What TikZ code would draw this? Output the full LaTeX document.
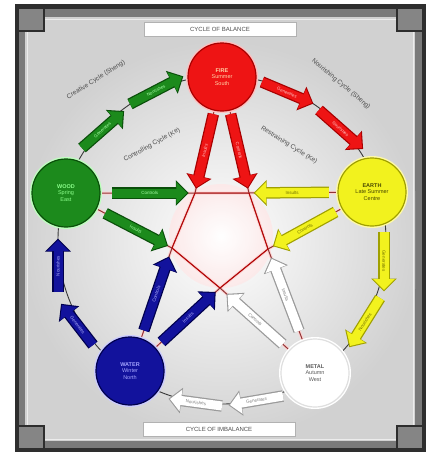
\documentclass[tikz,border=0pt]{standalone}
\usepackage{fontspec}
\setmainfont{Liberation Sans}
\usetikzlibrary{arrows.meta,calc}
\definecolor{frameout}{HTML}{2E2E2E}
\definecolor{framemid}{HTML}{7A7A7A}
\definecolor{framecorner}{HTML}{858585}
\definecolor{panel}{HTML}{D1D1D1}
\definecolor{firec}{HTML}{EE1414}
\definecolor{fired}{HTML}{A80000}
\definecolor{woodc}{HTML}{1C8A1C}
\definecolor{woodd}{HTML}{0A4F0A}
\definecolor{earthc}{HTML}{F2F21E}
\definecolor{earthd}{HTML}{A0A000}
\definecolor{waterc}{HTML}{12129C}
\definecolor{waterd}{HTML}{00004E}
\definecolor{metalc}{HTML}{FFFFFF}
\definecolor{metald}{HTML}{9A9A9A}
\definecolor{starline}{HTML}{8E3434}
\begin{document}
\begin{tikzpicture}[x=1pt,y=-1pt,
  elem/.style={circle, minimum size=68pt, inner sep=0pt, align=center,
    font=\fontsize{5.5}{6.5}\selectfont, line width=1.2pt},
  fat/.style 2 args={line width=9pt, draw=#1, -{Triangle[length=11pt,width=21pt]},
    preaction={draw=#2, line width=11.5pt, -{Triangle[length=13pt,width=25pt]}, shorten >=-1.5pt}},
  albl/.style={midway, sloped, font=\fontsize{4.5}{5}\selectfont, inner sep=0pt},
  cyclbl/.style={font=\fontsize{6.5}{7.5}\selectfont, text=gray!60!black, inner sep=0pt},
  titlebox/.style={draw=gray!60, fill=white, minimum width=152pt, minimum height=14pt,
    inner sep=0pt, font=\fontsize{6}{7}\selectfont, text=gray!60!black},
  halo/.style={line width=3pt, draw=red!18},
  kline/.style={line width=1pt, draw=starline}
]
\useasboundingbox (0,0) rectangle (432,453);
\fill[white] (0,0) rectangle (432,453);
% frame
\fill[frameout] (15,4) rectangle (426,452);
\fill[framemid] (19,9) rectangle (422,448);
\fill[panel] (25,17) rectangle (415,441);
\begin{scope}
  \clip (25,17) rectangle (415,441);
  \shade[inner color=white, outer color=panel] (221,240) circle (200);
\end{scope}
\draw[white!85!gray, line width=0.8pt] (27,19) rectangle (413,439);
% corners
\fill[framecorner] (19,9) rectangle (44,31);
\draw[gray!35!black, line width=1.5pt] (44,9) -- (44,31) -- (19,31);
\fill[framecorner] (397,9) rectangle (422,31);
\draw[gray!35!black, line width=1.5pt] (397,9) -- (397,31) -- (422,31);
\fill[framecorner] (19,426) rectangle (44,448);
\draw[gray!35!black, line width=1.5pt] (44,448) -- (44,426) -- (19,426);
\fill[framecorner] (397,426) rectangle (422,448);
\draw[gray!35!black, line width=1.5pt] (397,448) -- (397,426) -- (422,426);

% titles
\node[titlebox] (ttop) at (220,29) {CYCLE OF BALANCE};
\node[titlebox] (tbot) at (219,429) {CYCLE OF IMBALANCE};

% coordinates of element centres and inner pentagon
\coordinate (cf) at (222,77);
\coordinate (cw) at (66,193);
\coordinate (ce) at (372,192);
\coordinate (cwa) at (130,371);
\coordinate (cm) at (315,373);
\coordinate (pa) at (195,193);
\coordinate (pb) at (249,193);
\coordinate (pc) at (268,249);
\coordinate (pd) at (220,288);
\coordinate (pe) at (172,248);
\coordinate (cc) at (222,240);

% outer (sheng) ring
\draw[gray!45!black, line width=0.9pt] (cc) circle (164);

% pentagon glow
\shade[inner color=white, outer color=white!60!pink, opacity=0.7] (221,236) circle (52);

% ke lines (pentagram)
\draw[halo] (cw) -- (pa) -- (pb) -- (ce);
\draw[halo] (cf) -- (pa) -- (pe) -- (cwa);
\draw[halo] (cf) -- (pb) -- (pc) -- (cm);
\draw[halo] (cw) -- (pe) -- (pd) -- (cm);
\draw[halo] (ce) -- (pc) -- (pd) -- (cwa);
\draw[kline] (cw) -- (pa) -- (pb) -- (ce);
\draw[kline] (cf) -- (pa) -- (pe) -- (cwa);
\draw[kline] (cf) -- (pb) -- (pc) -- (cm);
\draw[kline] (cw) -- (pe) -- (pd) -- (cm);
\draw[kline] (ce) -- (pc) -- (pd) -- (cwa);
\draw[line width=0.8pt, draw=red!75!black] (pa) -- (pb) -- (pc) -- (pd) -- (pe) -- cycle;

% cycle labels
\node[cyclbl, rotate=32] (lab1) at (96,80) {Creative Cycle (Sheng)};
\node[cyclbl, rotate=-40] (lab2) at (341,84) {Nourishing Cycle (Sheng)};
\node[cyclbl, rotate=29] (lab3) at (152,145) {Controlling Cycle (Ke)};
\node[cyclbl, rotate=-32] (lab4) at (289,145) {Restraining Cycle (Ke)};

% outer arrow end points
\coordinate (g1s) at (82,148);  \coordinate (g1e) at (123,112);
\coordinate (g2s) at (130,104); \coordinate (g2e) at (182,77);
\coordinate (r1s) at (262,82);  \coordinate (r1e) at (312,103);
\coordinate (r2s) at (319,110); \coordinate (r2e) at (362,148);
\coordinate (y1s) at (384,232); \coordinate (y1e) at (384,290);
\coordinate (y2s) at (380,298); \coordinate (y2e) at (350,346);
\coordinate (w1s) at (283,396); \coordinate (w1e) at (230,405);
\coordinate (w2s) at (222,406); \coordinate (w2e) at (170,399);
\coordinate (b1s) at (93,345);  \coordinate (b1e) at (62,305);
\coordinate (b2s) at (58,292);  \coordinate (b2e) at (58,240);

% outer arrows
\draw[fat={woodc}{woodd}] (g1s) -- node[albl, text=green!35!white] {Generates} (g1e);
\draw[fat={woodc}{woodd}] (g2s) -- node[albl, text=green!35!white] {Nourishes} (g2e);
\draw[fat={firec}{fired}] (r1s) -- node[albl, text=red!25!white] {Generates} (r1e);
\draw[fat={firec}{fired}] (r2s) -- node[albl, text=red!25!white] {Nourishes} (r2e);
\draw[fat={earthc}{earthd}] (y1s) -- node[albl, text=earthd!70!black] {Generates} (y1e);
\draw[fat={earthc}{earthd}] (y2s) -- node[albl, text=earthd!70!black] {Nourishes} (y2e);
\draw[fat={metalc}{metald}] (w1s) -- node[albl, text=gray] {Generates} (w1e);
\draw[fat={metalc}{metald}] (w2s) -- node[albl, text=gray] {Nourishes} (w2e);
\draw[fat={waterc}{waterd}] (b1s) -- node[albl, text=blue!30!white] {Generates} (b1e);
\draw[fat={waterc}{waterd}] (b2s) -- node[albl, text=blue!30!white] {Nourishes} (b2e);

% inner arrows
\draw[fat={firec}{fired}] ($(cf)!0.32!(pa)$) -- node[albl, text=red!25!white] {Insults} ($(cf)!0.95!(pa)$);
\draw[fat={firec}{fired}] ($(cf)!0.32!(pb)$) -- node[albl, text=red!25!white] {Controls} ($(cf)!0.95!(pb)$);
\draw[fat={woodc}{woodd}] ($(cw)!0.36!(pa)$) -- node[albl, text=green!35!white] {Controls} ($(cw)!0.94!(pa)$);
\draw[fat={woodc}{woodd}] ($(cw)!0.37!(pe)$) -- node[albl, text=green!35!white] {Insults} ($(cw)!0.95!(pe)$);
\draw[fat={earthc}{earthd}] ($(ce)!0.35!(pb)$) -- node[albl, text=earthd!70!black] {Insults} ($(ce)!0.95!(pb)$);
\draw[fat={earthc}{earthd}] ($(ce)!0.35!(pc)$) -- node[albl, text=earthd!70!black] {Controls} ($(ce)!0.94!(pc)$);
\draw[fat={waterc}{waterd}] ($(cwa)!0.33!(pe)$) -- node[albl, text=blue!30!white] {Controls} ($(cwa)!0.92!(pe)$);
\draw[fat={waterc}{waterd}] ($(cwa)!0.35!(pd)$) -- node[albl, text=blue!30!white] {Insults} ($(cwa)!0.94!(pd)$);
\draw[fat={metalc}{metald}] ($(cm)!0.34!(pd)$) -- node[albl, text=gray] {Controls} ($(cm)!0.92!(pd)$);
\draw[fat={metalc}{metald}] ($(cm)!0.34!(pc)$) -- node[albl, text=gray] {Insults} ($(cm)!0.92!(pc)$);

% elements
\node[elem, fill=firec, draw=fired, text=orange!35!white,
  preaction={draw=red!25, line width=4pt}] (fire) at (cf)
  {\textbf{FIRE}\\ Summer\\ South};
\node[elem, fill=woodc, draw=woodd, text=green!45!white,
  preaction={draw=green!25, line width=4pt}] (wood) at (cw)
  {\textbf{WOOD}\\ Spring\\ East};
\node[elem, fill=earthc, draw=earthd, text=earthd!45!black,
  preaction={draw=yellow!35, line width=4pt}] (earth) at (ce)
  {\textbf{EARTH}\\ Late Summer\\ Centre};
\node[elem, fill=waterc, draw=waterd, text=blue!35!white,
  preaction={draw=blue!20, line width=4pt}] (water) at (cwa)
  {\textbf{WATER}\\ Winter\\ North};
\node[elem, fill=metalc, draw=gray!25, text=gray!70!black,
  preaction={draw=white, line width=4pt}] (metal) at (cm)
  {\textbf{METAL}\\ Autumn\\ West};
\end{tikzpicture}
\end{document}
